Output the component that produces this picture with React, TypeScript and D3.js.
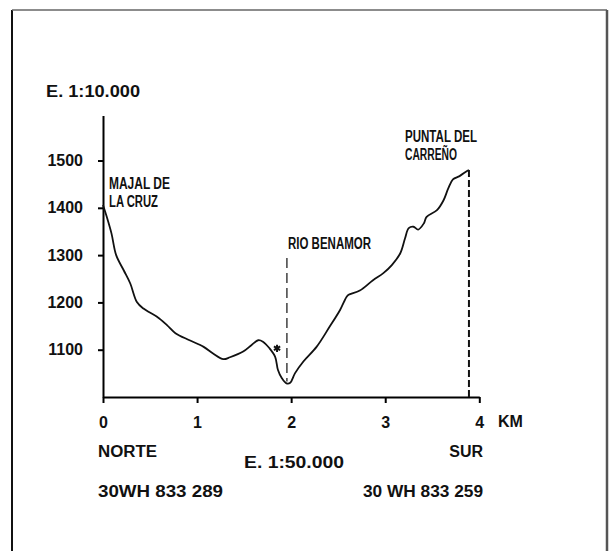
import React, { useRef, useEffect } from 'react';
import * as d3 from 'd3';

// constants
const width = 609;
const height = 551;

// profile: distance (km) and altitude (m)
const distKm = [0, 0.04, 0.09, 0.14, 0.22, 0.29, 0.36, 0.43, 0.57, 0.68, 0.77, 0.92, 1.07, 1.17, 1.28, 1.35, 1.49, 1.58, 1.65, 1.70, 1.77, 1.83, 1.86, 1.90, 1.95, 1.99, 2.04, 2.13, 2.27, 2.41, 2.52, 2.59, 2.61, 2.73, 2.87, 2.98, 3.07, 3.16, 3.21, 3.25, 3.30, 3.35, 3.41, 3.44, 3.55, 3.62, 3.67, 3.72, 3.79, 3.87, 3.89];
const elevM = [1406, 1381, 1346, 1300, 1268, 1240, 1201, 1187, 1170, 1152, 1135, 1120, 1106, 1092, 1080, 1084, 1096, 1110, 1120, 1117, 1103, 1085, 1057, 1040, 1029, 1030, 1050, 1075, 1106, 1149, 1184, 1212, 1216, 1225, 1247, 1262, 1279, 1304, 1335, 1357, 1360, 1354, 1367, 1381, 1395, 1416, 1441, 1460, 1467, 1478, 1480];

const xTicks = [0, 1, 2, 3, 4];
const yTicks = [1100, 1200, 1300, 1400, 1500];

// marked places
const riverKm = 1.955;
const riverTop = 1294;
const riverBottom = 1033;
const summitKm = 3.89;
const summitElev = 1480;
const starKm = 1.85;
const starElev = 1103;

const boldFont = '"Liberation Sans", Arial, sans-serif';

const App = () => {
  const x = d3.scaleLinear().domain([0, 4]).range([103, 479.3]);
  const y = d3.scaleLinear().domain([1000, 1595]).range([397, 115.6]);

  const line = d3.line<number>()
    .x((d, i) => x(distKm[i]))
    .y(d => y(d))
    .curve(d3.curveCatmullRom);

  const star = d3.symbol().type(d3.symbolAsterisk).size(36)();

  const xAxisRef = useRef<SVGGElement>(null);
  const yAxisRef = useRef<SVGGElement>(null);
  useEffect(() => {
    const style = (g: any) => {
      g.select('.domain').attr('stroke-width', 2);
      g.selectAll('.tick line').attr('stroke-width', 2);
      g.selectAll('.tick text')
        .attr('font-family', boldFont)
        .attr('font-weight', 'bold')
        .attr('font-size', 16)
        .attr('fill', '#111');
    };
    d3.select(xAxisRef.current)
      .attr('transform', `translate(0,${y(1000)})`)
      .call(d3.axisBottom(x).tickValues(xTicks).tickFormat(d3.format('d')).tickSize(6).tickSizeOuter(0).tickPadding(14))
      .call(style)
      .attr('font-size', null).attr('font-family', null);
    d3.select(yAxisRef.current)
      .attr('transform', `translate(${x(0)},0)`)
      .call(d3.axisLeft(y).tickValues(yTicks).tickFormat(d3.format('d')).tickSize(5).tickSizeOuter(0).tickPadding(15))
      .call(style)
      .attr('font-size', null).attr('font-family', null);
  }, []);

  const bold = { fontFamily: boldFont, fontWeight: 700, fontSize: 16, fill: '#111' } as const;
  // hand-lettered labels: squeezed glyphs with open spacing
  const narrow = { fontFamily: boldFont, fontWeight: 700, fontSize: 16, fill: '#111', lengthAdjust: 'spacingAndGlyphs' } as const;

  return (
    <svg width={width} height={height} style={{ position: 'absolute', left: 0, top: 0, background: '#fff' }}>
      {/* frame of the scanned page */}
      <line x1={12} y1={10} x2={12} y2={height} stroke="#111" strokeWidth={2} />
      <line x1={12} y1={10} x2={607} y2={10} stroke="#666" strokeWidth={1.5} />
      <line x1={607} y1={10} x2={607} y2={height} stroke="#555" strokeWidth={2.5} />

      <text x={46} y={97} {...bold} textLength={94} lengthAdjust="spacingAndGlyphs">E. 1:10.000</text>

      <g ref={yAxisRef} />
      <g ref={xAxisRef} />
      <text x={498} y={427} {...bold}>KM</text>

      <path d={line(elevM) || ''} fill="none" stroke="#111" strokeWidth={1.8} strokeLinejoin="round" />

      <line x1={x(riverKm)} x2={x(riverKm)} y1={y(riverTop)} y2={y(riverBottom)}
        stroke="#111" strokeWidth={1.2} strokeDasharray="10,5" />
      <line x1={x(summitKm)} x2={x(summitKm)} y1={y(summitElev)} y2={y(1000)}
        stroke="#111" strokeWidth={2} strokeDasharray="7,3" />
      <path d={star || ''} transform={`translate(${x(starKm)},${y(starElev)})`} stroke="#111" strokeWidth={2} fill="none" />

      <text x={109} y={189} {...narrow} textLength={61}>MAJAL DE</text>
      <text x={109} y={207} {...narrow} textLength={49}>LA CRUZ</text>
      <text x={288} y={249} {...narrow} textLength={83}>RIO BENAMOR</text>
      <text x={405} y={142} {...narrow} textLength={72}>PUNTAL DEL</text>
      <text x={405} y={160} {...narrow} textLength={52}>CARREÑO</text>

      <text x={98} y={457} {...bold} textLength={59} lengthAdjust="spacingAndGlyphs">NORTE</text>
      <text x={483} y={457} {...bold} textAnchor="end">SUR</text>
      <text x={244} y={468} {...bold} textLength={100} lengthAdjust="spacingAndGlyphs">E. 1:50.000</text>
      <text x={98} y={497} {...bold} textLength={125} lengthAdjust="spacingAndGlyphs">30WH 833 289</text>
      <text x={363} y={497} {...bold} textLength={120} lengthAdjust="spacingAndGlyphs">30 WH 833 259</text>
    </svg>
  );
};

export default App;
